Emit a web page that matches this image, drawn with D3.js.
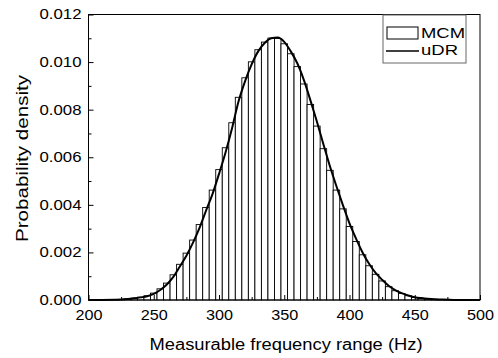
<!DOCTYPE html>
<html>
<head>
<meta charset="utf-8">
<script src="https://cdn.jsdelivr.net/npm/d3@7"></script>
<style>
  body { margin: 0; background: #fff; }
  svg { font-family: "Liberation Sans", Arial, sans-serif; }
</style>
</head>
<body>
<svg id="chart"></svg>
<script>
// Histogram (MCM): bar centres in Hz and probability density
const binCenters = [215, 220, 225, 230, 235, 240, 245, 250, 255, 260, 265, 270, 275, 280, 285, 290, 295,
    300, 305, 310, 315, 320, 325, 330, 335, 340, 345, 350, 355, 360, 365, 370, 375, 380, 385, 390, 395,
    400, 405, 410, 415, 420, 425, 430, 435, 440, 445, 450, 455, 460, 465, 470, 475, 480];
const binDensity = [0.000006, 0.000014, 0.000024, 0.000046, 0.000078, 0.00012, 0.00018, 0.00029, 0.00047,
    0.00071, 0.00106, 0.00150, 0.00197, 0.00252, 0.00317, 0.00389, 0.00462, 0.00548, 0.00640, 0.00745,
    0.00852, 0.00934, 0.01001, 0.01052, 0.01084, 0.01101, 0.01099, 0.01077, 0.01035, 0.00981, 0.00908,
    0.00822, 0.00731, 0.00636, 0.00545, 0.00462, 0.00383, 0.00309, 0.00246, 0.00190, 0.00144, 0.00108,
    0.00080, 0.00056, 0.00039, 0.00027, 0.00018, 0.00011, 0.00007, 0.000045, 0.000028, 0.000017,
    0.00001, 0.000005];
const binWidth = 5;

// uDR curve
const curveX = [200, 210, 220, 225, 230, 235, 240, 245, 250, 255, 260, 265, 270, 275, 280, 285, 290, 295,
    300, 305, 310, 315, 320, 325, 330, 335, 340, 345, 350, 355, 360, 365, 370, 375, 380, 385, 390, 395,
    400, 405, 410, 415, 420, 425, 430, 435, 440, 445, 450, 455, 460, 465, 470, 480, 500];
const curveY = [0, 0.000003, 0.000012, 0.00002, 0.00004, 0.00007, 0.00011, 0.00016, 0.00026, 0.00042,
    0.00065, 0.00097, 0.00141, 0.00186, 0.00240, 0.00302, 0.00375, 0.00445, 0.00530, 0.00620, 0.00722,
    0.00835, 0.00920, 0.00990, 0.01045, 0.01080, 0.01100, 0.01103, 0.01085, 0.01045, 0.00995, 0.00925,
    0.00840, 0.00750, 0.00655, 0.00562, 0.00478, 0.00398, 0.00322, 0.00258, 0.00200, 0.00152, 0.00114,
    0.00085, 0.00060, 0.00042, 0.00029, 0.00019, 0.00012, 0.00008, 0.00005, 0.00003, 0.00002, 0.000005, 0];

const xTicks = [200, 250, 300, 350, 400, 450, 500];
const xMinor = [225, 275, 325, 375, 425, 475];
const yTicks = [0, 0.002, 0.004, 0.006, 0.008, 0.010, 0.012];
const yMinor = [0.001, 0.003, 0.005, 0.007, 0.009, 0.011];
const legendLabels = ["MCM", "uDR"];

const width = 498, height = 358;
const margin = { top: 14.5, right: 18, bottom: 58, left: 88.5 };

const svg = d3.select("#chart").attr("width", width).attr("height", height);

const x = d3.scaleLinear().domain([200, 500]).range([margin.left, width - margin.right]);
const y = d3.scaleLinear().domain([0, 0.012]).range([height - margin.bottom, margin.top]);

// Histogram bars
svg.append("g")
   .selectAll("rect")
   .data(binCenters.map((c, i) => ({ c, v: binDensity[i] })))
   .join("rect")
   .attr("x", d => x(d.c - binWidth / 2))
   .attr("width", d => x(d.c + binWidth / 2) - x(d.c - binWidth / 2))
   .attr("y", d => y(d.v))
   .attr("height", d => y(0) - y(d.v))
   .attr("fill", "#fff")
   .attr("stroke", "#000")
   .attr("stroke-width", 0.9);

// uDR line
const line = d3.line().x(d => x(d[0])).y(d => y(d[1])).curve(d3.curveMonotoneX);
svg.append("path")
   .datum(curveX.map((v, i) => [v, curveY[i]]))
   .attr("fill", "none")
   .attr("stroke", "#000")
   .attr("stroke-width", 2)
   .attr("d", line);

// Axes with inward ticks
svg.append("g")
   .attr("transform", `translate(0, ${y(0)})`)
   .call(d3.axisBottom(x).tickValues(xTicks).tickSize(-5).tickPadding(10).tickFormat(d3.format("d")))
   .selectAll("text")
   .attr("textLength", 27).attr("lengthAdjust", "spacingAndGlyphs");
svg.append("g")
   .attr("transform", `translate(0, ${y(0)})`)
   .call(d3.axisBottom(x).tickValues(xMinor).tickSize(-3).tickFormat(""));

svg.append("g")
   .attr("transform", `translate(${x(200)}, 0)`)
   .call(d3.axisLeft(y).tickValues(yTicks).tickSize(-5).tickPadding(7).tickFormat(d3.format(".3f")))
   .selectAll("text")
   .attr("textLength", 42).attr("lengthAdjust", "spacingAndGlyphs");
svg.append("g")
   .attr("transform", `translate(${x(200)}, 0)`)
   .call(d3.axisLeft(y).tickValues(yMinor).tickSize(-3).tickFormat(""));

svg.selectAll(".domain").remove();
svg.selectAll(".tick line").attr("stroke", "#000");
svg.selectAll(".tick text").style("font-size", "14px").attr("fill", "#000");

// Frame
svg.append("rect")
   .attr("x", x(200)).attr("y", y(0.012))
   .attr("width", x(500) - x(200)).attr("height", y(0) - y(0.012))
   .attr("fill", "none").attr("stroke", "#000").attr("stroke-width", 1);

// Axis titles (stretched to the reference width)
svg.append("text")
   .attr("x", 286)
   .attr("y", 350)
   .attr("text-anchor", "middle")
   .attr("textLength", 273).attr("lengthAdjust", "spacingAndGlyphs")
   .style("font-size", "16px")
   .text("Measurable frequency range (Hz)");

svg.append("text")
   .attr("text-anchor", "middle")
   .attr("transform", `translate(28, 158.5) rotate(-90)`)
   .attr("textLength", 167).attr("lengthAdjust", "spacingAndGlyphs")
   .style("font-size", "16px")
   .text("Probability density");

// Legend
const lg = svg.append("g");
lg.append("rect")
   .attr("x", 383).attr("y", 15).attr("width", 83).attr("height", 48)
   .attr("fill", "#fff").attr("stroke", "#666").attr("stroke-width", 1);
lg.append("rect")
   .attr("x", 387).attr("y", 27).attr("width", 31).attr("height", 12)
   .attr("fill", "#fff").attr("stroke", "#000").attr("stroke-width", 1);
lg.append("line")
   .attr("x1", 386).attr("x2", 419).attr("y1", 51).attr("y2", 51)
   .attr("stroke", "#000").attr("stroke-width", 1.5);
lg.selectAll("text.lab")
   .data(legendLabels)
   .join("text")
   .attr("class", "lab")
   .attr("x", 421)
   .attr("y", (d, i) => 38 + i * 17)
   .attr("textLength", (d, i) => i === 0 ? 44 : 37)
   .attr("lengthAdjust", "spacingAndGlyphs")
   .style("font-size", "15px")
   .text(d => d);
</script>
</body>
</html>
